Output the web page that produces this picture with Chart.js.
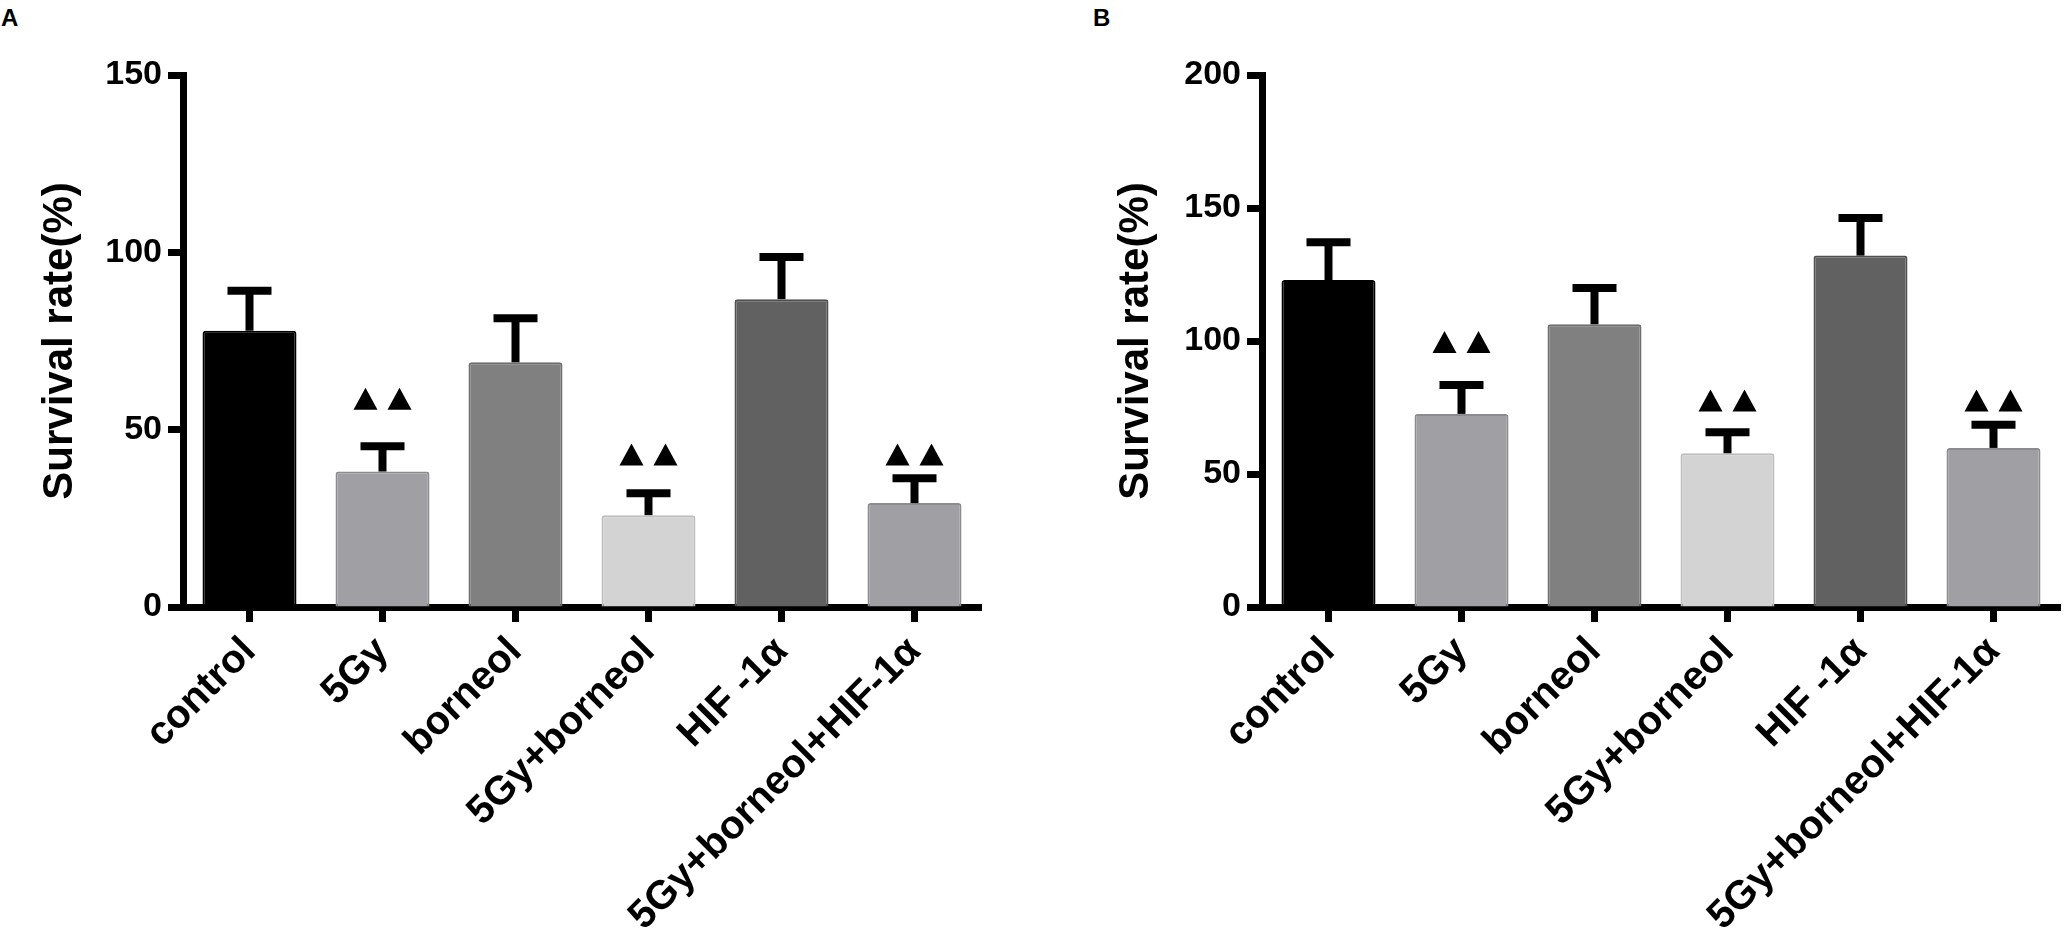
<!DOCTYPE html>
<html>
<head>
<meta charset="utf-8">
<script src="https://cdn.jsdelivr.net/npm/chart.js@4.4.1/dist/chart.umd.min.js"></script>
<style>
  html, body { margin: 0; padding: 0; background: #fff; width: 2067px; height: 936px; overflow: hidden; }
  canvas { position: absolute; top: 0; }
  .panel { position: absolute; top: 4px; font: bold 24px "Liberation Sans", Arial, sans-serif; }
</style>
</head>
<body>
<div class="panel" style="left:1px">A</div>
<div class="panel" style="left:1093px">B</div>
<canvas id="chartA" width="1000" height="936" style="left:0"></canvas>
<canvas id="chartB" width="1033" height="936" style="left:1034px"></canvas>
<script>
// groups on the x axis
const groups = ['control', '5Gy', 'borneol', '5Gy+borneol', 'HIF -1\u03b1', '5Gy+borneol+HIF-1\u03b1'];

// panel A: mean survival rate (%) and SEM
const survivalA = [77.9, 38.2, 69.0, 25.9, 86.8, 29.3];
const semA = [11.3, 7.1, 12.4, 6.2, 11.9, 7.0];
// height of the ▲▲ marks (null = none)
const marksA = [null, 58.7, null, 43.0, null, 43.0];
const ticksA = [0, 50, 100, 150];

// panel B
const survivalB = [122.9, 72.6, 106.3, 57.8, 132.1, 59.8];
const semB = [14.2, 10.9, 13.6, 7.9, 14.1, 8.7];
const marksB = [null, 99.6, null, 77.6, null, 77.6];
const ticksB = [0, 50, 100, 150, 200];

const fills = ['#000000', '#a0a0a4', '#808080', '#d3d3d3', '#616161', '#a0a0a4'];
const edges = ['#000000', '#8c8c90', '#6e6e6e', '#bdbdbd', '#505050', '#8c8c90'];
const FONT = '"Liberation Sans", Arial, sans-serif';

// error bars (upper half only) and significance triangles
const marksPlugin = {
  id: 'marks',
  afterDatasetsDraw(chart, args, opts) {
    const ctx = chart.ctx;
    const xs = chart.scales.x, ys = chart.scales.y;
    ctx.save();
    ctx.strokeStyle = '#000';
    ctx.fillStyle = '#000';
    ctx.lineCap = 'butt';
    opts.means.forEach((m, i) => {
      const cx = xs.getPixelForValue(i);
      const base = ys.getPixelForValue(m);
      const top = ys.getPixelForValue(m + opts.sem[i]);
      ctx.lineWidth = 8;
      ctx.beginPath();
      ctx.moveTo(cx, base);
      ctx.lineTo(cx, top);
      ctx.stroke();
      ctx.beginPath();
      ctx.moveTo(cx - 22, top);
      ctx.lineTo(cx + 22, top);
      ctx.stroke();
      const t = opts.marks[i];
      if (t !== null) {
        const ty = ys.getPixelForValue(t);
        [-17, 17].forEach(dx => {
          ctx.beginPath();
          ctx.moveTo(cx + dx, ty - 11);
          ctx.lineTo(cx + dx + 12, ty + 11);
          ctx.lineTo(cx + dx - 12, ty + 11);
          ctx.closePath();
          ctx.fill();
        });
      }
    });
    ctx.restore();
  }
};

const makeChart = (id, means, sem, marks, ticks, padLeft, yWidth, padRight) => {
  const yMax = ticks[ticks.length - 1];
  return new Chart(document.getElementById(id), {
    type: 'bar',
    data: {
      labels: groups,
      datasets: [{
        data: means,
        backgroundColor: fills,
        borderColor: edges,
        borderWidth: 2,
        borderRadius: 3,
        borderSkipped: 'bottom',
        categoryPercentage: 1,
        barPercentage: 0.707
      }]
    },
    options: {
      responsive: false,
      animation: false,
      devicePixelRatio: 1,
      layout: { padding: { left: padLeft, right: padRight, top: 75, bottom: 0 } },
      plugins: {
        legend: { display: false },
        tooltip: { enabled: false },
        marks: { means, sem, marks }
      },
      scales: {
        x: {
          z: 1,
          offset: true,
          grid: { offset: false, drawOnChartArea: false, drawTicks: true, tickLength: 15, tickWidth: 7, color: '#000' },
          border: { display: true, width: 7, color: '#000' },
          ticks: {
            color: '#000',
            font: { family: FONT, size: 40, weight: 'bold' },
            minRotation: 45,
            maxRotation: 45,
            autoSkip: false,
            padding: 6
          },
          afterFit: (s) => { s.height = 936 - 607; }
        },
        y: {
          z: 1,
          min: 0,
          max: yMax,
          afterBuildTicks: (s) => { s.ticks = ticks.map(v => ({ value: v })); },
          grid: { drawOnChartArea: false, drawTicks: true, tickLength: 15, tickWidth: 7, color: '#000' },
          border: { display: true, width: 7, color: '#000' },
          ticks: {
            color: '#000',
            font: { family: FONT, size: 34, weight: 'bold' },
            padding: 6
          },
          title: {
            display: true,
            text: 'Survival rate(%)',
            color: '#000',
            font: { family: FONT, size: 42, weight: 'bold' },
            padding: 4
          },
          afterFit: (s) => { s.width = yWidth; }
        }
      }
    },
    plugins: [marksPlugin]
  });
};

makeChart('chartA', survivalA, semA, marksA, ticksA, 31, 152, 19);
makeChart('chartB', survivalB, semB, marksB, ticksB, 73, 155, 7);
</script>
</body>
</html>
